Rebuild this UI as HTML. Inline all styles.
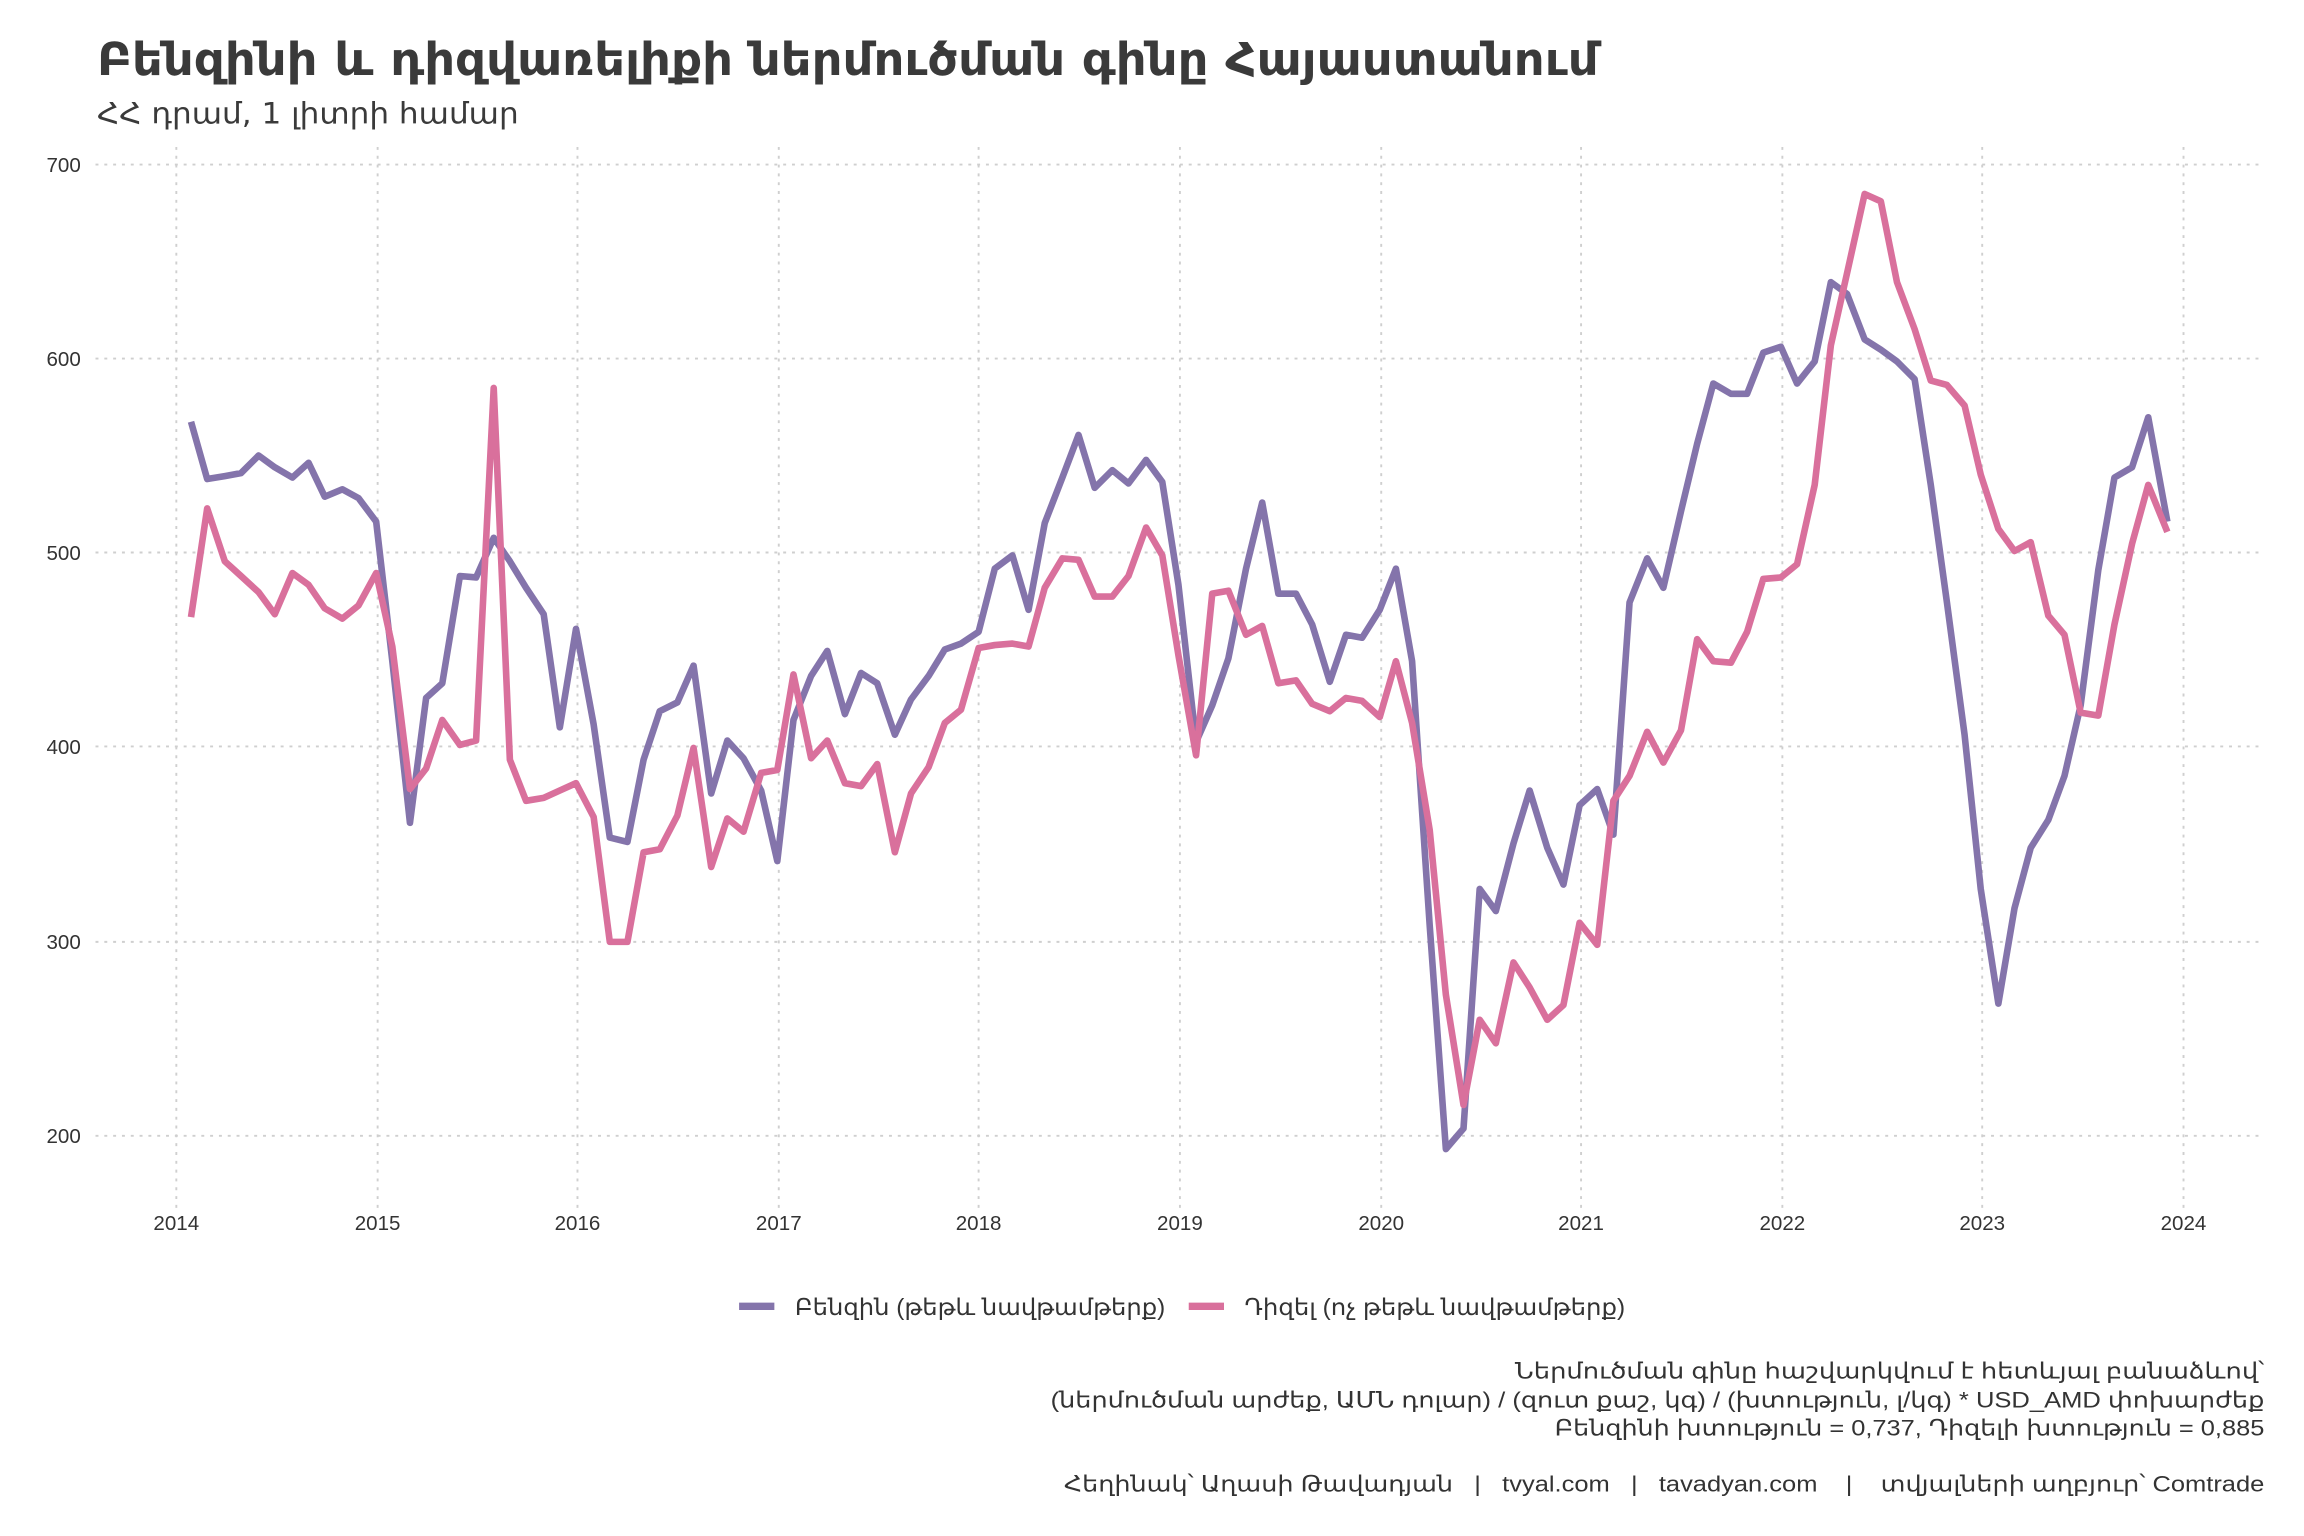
<!DOCTYPE html>
<html><head><meta charset="utf-8"><style>
html,body{margin:0;padding:0;background:#fff;}
svg{display:block;font-family:"Liberation Sans","DejaVu Sans",sans-serif;}
</style></head><body>
<svg width="2304" height="1536" viewBox="0 0 1568 1045.33" xmlns="http://www.w3.org/2000/svg">
<rect width="1568" height="1046" fill="#fff"/>
<text x="66" y="51" font-size="31" font-weight="bold" fill="#3a3a3a" font-family="DejaVu Sans, sans-serif" textLength="1022" lengthAdjust="spacingAndGlyphs">Բենզինի և դիզվառելիքի ներմուծման գինը Հայաստանում</text>
<text x="66" y="84" font-size="20" fill="#3a3a3a" font-family="DejaVu Sans, sans-serif" textLength="287" lengthAdjust="spacingAndGlyphs">ՀՀ դրամ, 1 լիտրի համար</text>
<g stroke="#cfcfcf" stroke-width="1.3" stroke-dasharray="2,4">
<line x1="65" x2="1540" y1="112" y2="112"/><line x1="65" x2="1540" y1="244" y2="244"/><line x1="65" x2="1540" y1="376" y2="376"/><line x1="65" x2="1540" y1="508" y2="508"/><line x1="65" x2="1540" y1="641" y2="641"/><line x1="65" x2="1540" y1="773" y2="773"/>
<line y1="100" y2="822" x1="120" x2="120"/><line y1="100" y2="822" x1="257" x2="257"/><line y1="100" y2="822" x1="393" x2="393"/><line y1="100" y2="822" x1="530" x2="530"/><line y1="100" y2="822" x1="666" x2="666"/><line y1="100" y2="822" x1="803" x2="803"/><line y1="100" y2="822" x1="940" x2="940"/><line y1="100" y2="822" x1="1076" x2="1076"/><line y1="100" y2="822" x1="1213" x2="1213"/><line y1="100" y2="822" x1="1349" x2="1349"/><line y1="100" y2="822" x1="1486" x2="1486"/>
</g>
<g font-size="14" fill="#333" text-anchor="end">
<text x="55" y="117">700</text><text x="55" y="249">600</text><text x="55" y="381">500</text><text x="55" y="513">400</text><text x="55" y="646">300</text><text x="55" y="778">200</text>
</g>
<g font-size="14" fill="#333" text-anchor="middle">
<text x="120" y="837">2014</text><text x="257" y="837">2015</text><text x="393" y="837">2016</text><text x="530" y="837">2017</text><text x="666" y="837">2018</text><text x="803" y="837">2019</text><text x="940" y="837">2020</text><text x="1076" y="837">2021</text><text x="1213" y="837">2022</text><text x="1349" y="837">2023</text><text x="1486" y="837">2024</text>
</g>
<polyline fill="none" stroke="#8474ab" stroke-width="4.5" stroke-linejoin="round" points="130,287 141,326 153,324 164,322 176,310 187,318 199,325 210,315 221,338 233,333 244,339 256,355 267,450 279,560 290,475 301,465 313,392 324,393 336,366 347,382 358,400 370,418 381,495 392,428 404,493 415,570 427,573 438,517 449,484 461,478 472,453 484,540 495,504 506,516 518,538 529,586 540,490 552,460 563,443 575,486 586,458 597,465 609,500 620,476 632,460 643,442 654,438 666,430 677,387 689,378 700,415 711,356 723,325 734,296 745,332 757,320 768,329 780,313 791,328 802,398 814,505 825,480 836,448 848,387 859,342 870,404 882,404 893,425 905,464 916,432 927,434 939,415 950,387 961,450 973,630 984,782 996,768 1007,605 1018,620 1030,574 1041,538 1053,577 1064,602 1075,548 1087,537 1098,568 1109,410 1121,380 1132,400 1144,348 1155,302 1166,261 1178,268 1189,268 1200,240 1212,236 1223,261 1235,246 1246,192 1257,200 1269,231 1280,238 1291,246 1303,258 1314,330 1325,410 1337,500 1348,605 1360,683 1371,618 1382,577 1394,558 1405,528 1416,480 1428,388 1439,325 1451,318 1462,284 1475,355"/>
<polyline fill="none" stroke="#d9709c" stroke-width="4.5" stroke-linejoin="round" points="130,420 141,346 153,382 164,392 176,403 187,418 199,390 210,398 221,414 233,421 244,412 256,390 267,440 279,537 290,523 301,490 313,507 324,504 336,264 347,517 358,545 370,543 381,538 392,533 404,556 415,641 427,641 438,580 449,578 461,555 472,509 484,590 495,557 506,566 518,526 529,524 540,459 552,516 563,504 575,533 586,535 597,520 609,580 620,540 632,522 643,492 654,483 666,441 677,439 689,438 700,440 711,400 723,380 734,381 745,406 757,406 768,392 780,359 791,378 802,446 814,514 825,404 836,402 848,432 859,426 870,465 882,463 893,479 905,484 916,475 927,477 939,488 950,450 961,492 973,565 984,677 996,752 1007,694 1018,710 1030,655 1041,672 1053,694 1064,684 1075,628 1087,643 1098,545 1109,528 1121,498 1132,519 1144,497 1155,435 1166,450 1178,451 1189,430 1200,394 1212,393 1223,384 1235,330 1246,235 1257,186 1269,132 1280,137 1291,192 1303,224 1314,259 1325,262 1337,276 1348,323 1360,360 1371,375 1382,369 1394,419 1405,432 1416,485 1428,487 1439,425 1451,370 1462,330 1475,362"/>
<line x1="503" x2="527" y1="889" y2="889" stroke="#8474ab" stroke-width="5"/>
<line x1="809" x2="833" y1="889" y2="889" stroke="#d9709c" stroke-width="5"/>
<g font-size="16" fill="#333">
<text x="541" y="895" textLength="252" lengthAdjust="spacingAndGlyphs">Բենզին (թեթև նավթամթերք)</text>
<text x="847" y="895" textLength="259" lengthAdjust="spacingAndGlyphs">Դիզել (ոչ թեթև նավթամթերք)</text>
</g>
<g font-size="15" fill="#333">
<text x="1031" y="938" textLength="510" lengthAdjust="spacingAndGlyphs">Ներմուծման գինը հաշվարկվում է հետևյալ բանաձևով՝</text>
<text x="715" y="958" textLength="826" lengthAdjust="spacingAndGlyphs">(ներմուծման արժեք, ԱՄՆ դոլար) / (զուտ քաշ, կգ) / (խտություն, լ/կգ) * USD_AMD փոխարժեք</text>
<text x="1058" y="977" textLength="483" lengthAdjust="spacingAndGlyphs">Բենզինի խտություն = 0,737, Դիզելի խտություն = 0,885</text>
<text x="724" y="1015" xml:space="preserve" textLength="817" lengthAdjust="spacingAndGlyphs">Հեղինակ՝ Աղասի Թավադյան   |   tvyal.com   |   tavadyan.com    |    տվյալների աղբյուր՝ Comtrade</text>
</g>
</svg>
</body></html>
